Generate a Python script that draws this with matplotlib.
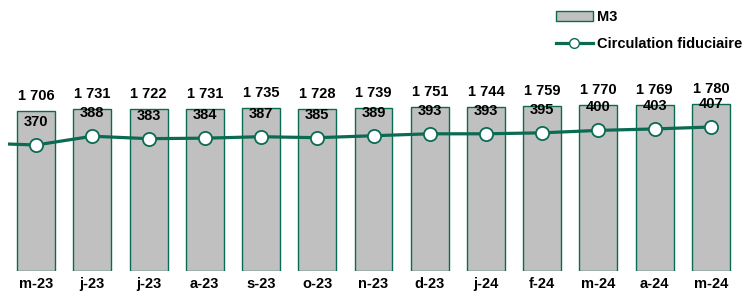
import matplotlib
matplotlib.use("Agg")
import matplotlib.pyplot as plt
from matplotlib.lines import Line2D
from matplotlib.patches import Patch

plt.rcParams['font.family'] = ['Liberation Sans', 'DejaVu Sans']
plt.rcParams['font.weight'] = 'bold'

months = ["m-23", "j-23", "j-23", "a-23", "s-23", "o-23", "n-23", "d-23",
          "j-24", "f-24", "m-24", "a-24", "m-24"]
m3 = [1706, 1731, 1722, 1731, 1735, 1728, 1739, 1751, 1744, 1759, 1770, 1769, 1780]
circ = [370, 388, 383, 384, 387, 385, 389, 393, 393, 395, 400, 403, 407]
circ_prev = 374  # previous month, partially visible at left edge

green = '#0b6b52'
grey = '#c0c0c0'

W, H = 744, 297
fig = plt.figure(figsize=(W/100, H/100), dpi=100)
ax = fig.add_axes([8/W, (H-271)/H, 731/W, 271/H])
ax2 = ax.twinx()

x = list(range(len(months)))
ax.bar(x, m3, width=0.675, color=grey, edgecolor=green, linewidth=1.0, zorder=1)
ax.set_xlim(-0.5, len(months)-0.5)
ax.set_ylim(0, 2889)
for xi, v in zip(x, m3):
    ax.annotate(f"{v:,}".replace(",", " "), (xi, v), xytext=(0, 15), textcoords='offset pixels',
                ha='center', va='center', fontsize=10.5, fontweight='bold', color='black')

ax2.set_ylim(111, 668)
ax2.plot([-1] + x, [circ_prev] + circ, color=green, linewidth=2.3, marker='o',
         markersize=9.5, markerfacecolor='white', markeredgecolor=green,
         markeredgewidth=1.3, zorder=3, clip_on=True)
for xi, v in zip(x, circ):
    ax2.annotate(str(v), (xi, v), xytext=(0, 23), textcoords='offset pixels',
                 ha='center', va='center', fontsize=10.5, fontweight='bold', color='black')

for a in (ax, ax2):
    for s in a.spines.values():
        s.set_visible(False)
    a.set_yticks([])
ax.set_xticks(x)
ax.set_xticklabels(months, fontsize=10.5, fontweight='bold')
ax.tick_params(axis='x', length=0, pad=4)

handles = [Patch(facecolor=grey, edgecolor=green, linewidth=1.0, label='M3'),
           Line2D([], [], color=green, linewidth=2.3, marker='o', markersize=7,
                  markerfacecolor='white', markeredgecolor=green, label='Circulation fiduciaire')]
leg = fig.legend(handles=handles, loc='upper left', bbox_to_anchor=(546/W, 1.0),
                 frameon=False, fontsize=10.5, handlelength=2.5, handleheight=0.7,
                 labelspacing=0.9, handletextpad=0.3, borderaxespad=0.3)
for t in leg.get_texts():
    t.set_fontweight('bold')

fig.savefig("out.png", dpi=100)
